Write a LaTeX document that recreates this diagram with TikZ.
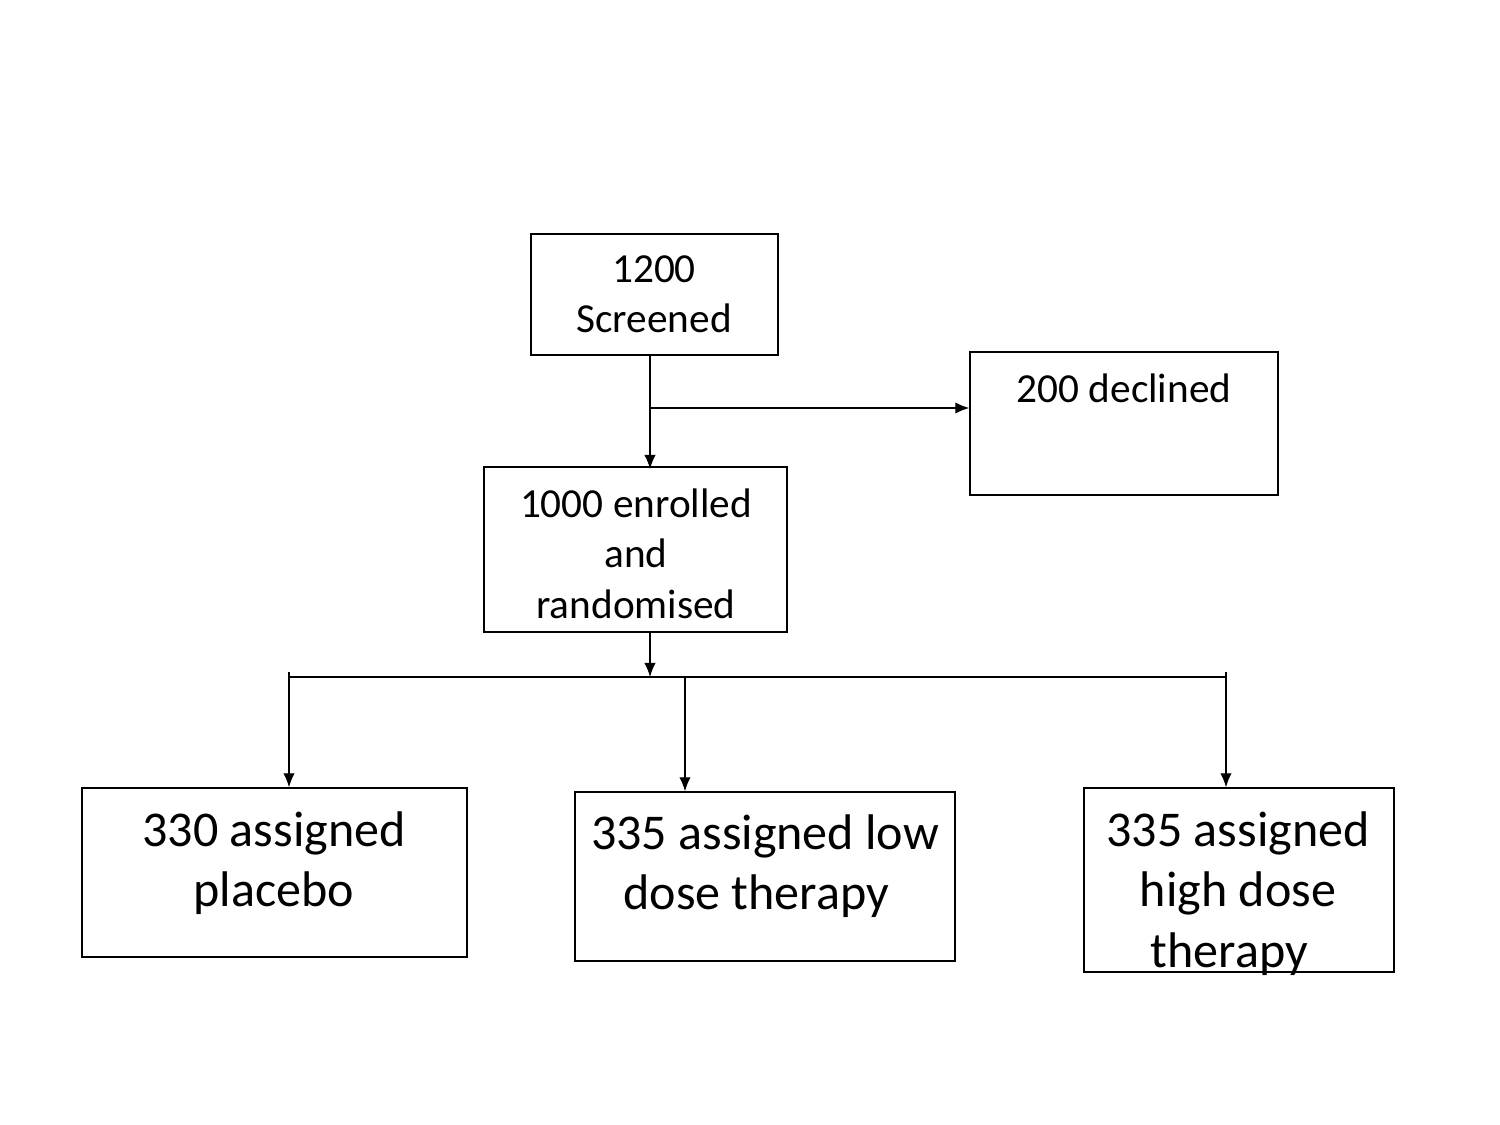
\documentclass[tikz,border=0pt]{standalone}
\usepackage{fontspec}
\setmainfont{Carlito}
\usetikzlibrary{arrows.meta}
\begin{document}
\begin{tikzpicture}[x=0.02cm,y=-0.02cm,
  box/.style={draw,line width=0.8pt,inner sep=0pt},
  smalltxt/.style={font=\fontsize{23.5}{28.6}\selectfont,align=center,anchor=north,inner sep=0pt},
  bigtxt/.style={font=\fontsize{28.5}{34.4}\selectfont,align=center,anchor=north,inner sep=0pt},
  arr/.style={line width=0.8pt,-{Latex[length=8pt,width=6.5pt]}},
  ln/.style={line width=0.8pt}]
\useasboundingbox (0,0) rectangle (1500,1125);
% boxes
\node[box,minimum width=247*0.02cm,minimum height=121*0.02cm] (scr) at (654.5,294.5) {};
\node[box,minimum width=308*0.02cm,minimum height=143*0.02cm] (dec) at (1124,423.5) {};
\node[box,minimum width=303*0.02cm,minimum height=165*0.02cm] (enr) at (635.5,549.5) {};
\node[box,minimum width=385*0.02cm,minimum height=169*0.02cm] (pla) at (274.5,872.5) {};
\node[box,minimum width=380*0.02cm,minimum height=169*0.02cm] (low) at (765,876.5) {};
\node[box,minimum width=310*0.02cm,minimum height=184*0.02cm] (hig) at (1239,880) {};
% texts
\node[smalltxt] (scrt) at (654,255.5) {1200\\Screened};
\node[smalltxt] (dect) at (1124,373) {200 declined};
\node[smalltxt] (enrt) at (636,488.5) {1000 enrolled\\and\\randomised};
\node[bigtxt] (plat) at (274,811) {330 assigned\\placebo};
\node[bigtxt] (lowt) at (765,814) {335 assigned low\\\hspace*{-10pt}dose therapy};
\node[bigtxt] (higt) at (1238,811) {335 assigned\\high dose\\\hspace*{-10pt}therapy};
% connectors
\coordinate (j1) at (650,408);
\coordinate (j2) at (650,677);
\coordinate (l) at (289,677);
\coordinate (m) at (685,677);
\coordinate (r) at (1226,677);
\draw[arr] (650,355) -- (650,469);
\draw[arr] (j1) -- (dec.west |- j1);
\draw[arr] (650,632) -- (j2);
\draw[ln] (l) -- (r);
\draw[ln] (289,672) -- (l);
\draw[ln] (1226,672) -- (r);
\draw[arr] (l) -- (pla.north -| l);
\draw[arr] (m) -- (low.north -| m);
\draw[arr] (r) -- (hig.north -| r);
\end{tikzpicture}
\end{document}
